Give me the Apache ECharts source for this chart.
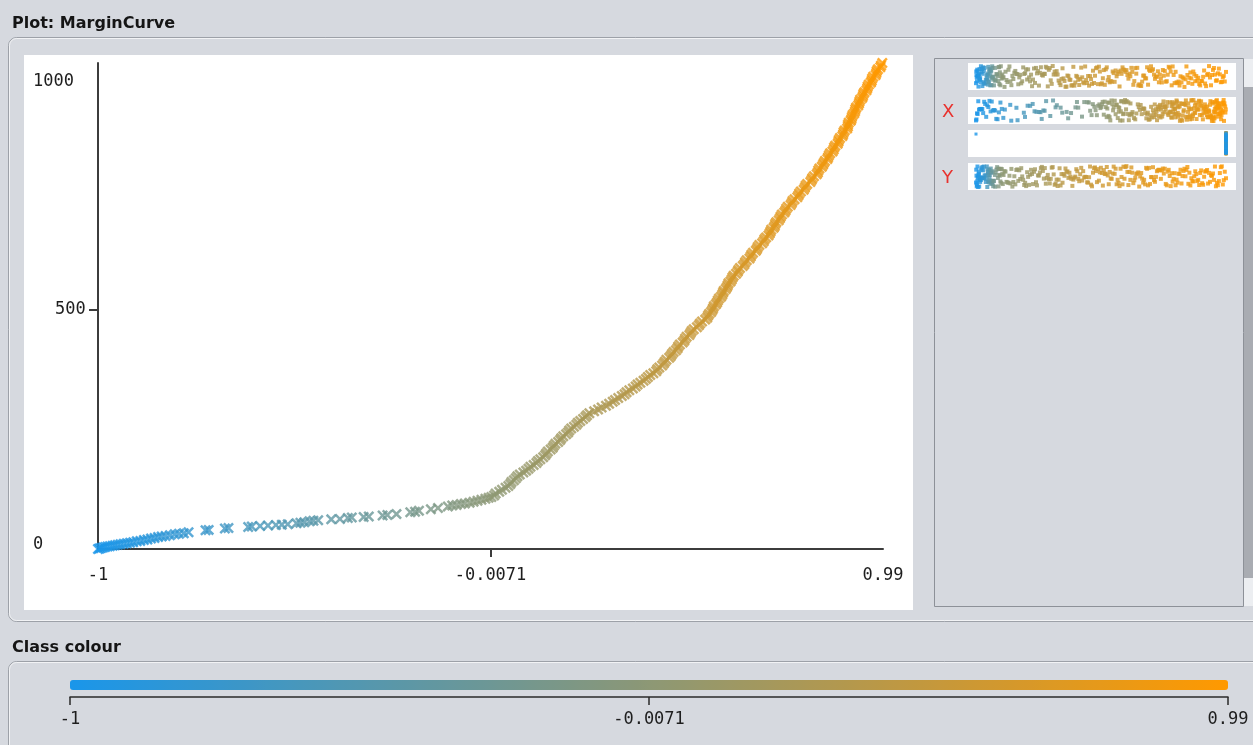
<!DOCTYPE html>
<html><head><meta charset="utf-8">
<script src="https://cdn.jsdelivr.net/npm/echarts@6/dist/echarts.min.js"></script>
<style>html,body{margin:0;padding:0;background:#d6d9df;overflow:hidden}#c{width:1253px;height:745px}</style>
</head><body><div id="c"></div>
<script>
// ---- data (Weka margin curve) ----
const marginX = [
-1.000,-0.996,-0.992,-0.987,-0.982,-0.976,-0.970,-0.963,-0.957,-0.950,-0.943,-0.935,-0.927,-0.919,-0.911,
-0.902,-0.893,-0.884,-0.875,-0.866,-0.857,-0.848,-0.839,-0.829,-0.818,-0.806,-0.795,-0.783,-0.771,-0.728,
-0.720,-0.679,-0.670,-0.620,-0.611,-0.590,-0.570,-0.550,-0.535,-0.520,-0.498,-0.488,-0.478,-0.465,-0.455,
-0.443,-0.410,-0.388,-0.368,-0.358,-0.328,-0.315,-0.280,-0.268,-0.245,-0.210,-0.198,-0.188,-0.158,-0.140,
-0.115,-0.104,-0.093,-0.082,-0.072,-0.060,-0.050,-0.040,-0.030,-0.020,-0.012,-0.005,0.002,
0.006,0.015,0.022,0.031,0.038,0.043,0.046,0.052,0.057,0.061,0.067,0.076,
0.083,0.089,0.094,0.102,0.109,0.113,0.119,0.126,0.131,0.134,0.138,0.145,
0.150,0.153,0.157,0.164,0.169,0.172,0.177,0.184,0.189,0.192,0.197,0.204,
0.210,0.214,0.220,0.227,0.233,0.237,0.243,0.255,0.265,0.274,0.285,0.293,
0.302,0.308,0.316,0.325,0.332,0.337,0.344,0.353,0.360,0.365,0.372,0.380,
0.386,0.391,0.397,0.405,0.412,0.415,0.420,0.427,0.431,0.434,0.438,0.445,
0.449,0.452,0.456,0.462,0.466,0.468,0.472,0.479,0.483,0.485,0.489,0.496,
0.499,0.502,0.507,0.515,0.520,0.523,0.528,0.536,0.541,0.543,0.546,0.551,
0.554,0.556,0.558,0.563,0.566,0.568,0.571,0.576,0.579,0.581,0.583,0.588,
0.591,0.593,0.595,0.600,0.603,0.605,0.608,0.614,0.618,0.620,0.624,0.631,
0.635,0.637,0.641,0.648,0.651,0.653,0.657,0.664,0.667,0.669,0.673,0.680,
0.684,0.686,0.690,0.696,0.699,0.701,0.703,0.709,0.712,0.713,0.716,0.722,
0.725,0.727,0.730,0.736,0.739,0.741,0.745,0.752,0.755,0.757,0.762,0.769,
0.772,0.774,0.778,0.785,0.788,0.790,0.794,0.802,0.805,0.807,0.811,0.818,
0.821,0.822,0.825,0.831,0.834,0.836,0.839,0.845,0.847,0.849,0.852,0.858,
0.861,0.862,0.865,0.871,0.873,0.874,0.877,0.883,0.885,0.886,0.889,0.895,
0.897,0.897,0.899,0.904,0.906,0.907,0.909,0.913,0.915,0.916,0.918,0.923,
0.925,0.926,0.928,0.933,0.935,0.936,0.939,0.944,0.946,0.947,0.950,0.955,
0.957,0.958,0.961,0.967,0.969,0.970,0.973,0.979,0.981,0.984];
const cumulativeY = [
0,1,2,3,4,5,6,7,8,9,10,11,12,13,14,
16,17,19,20,22,23,25,26,27,29,31,32,33,35,39,
40,43,44,46,47,48,49,50,51,52,54,55,56,58,59,
60,62,63,65,66,67,68,70,71,73,77,78,80,83,86,
89,91,92,94,95,97,99,101,103,105,107,109,112,
116,120,124,128,132,136,140,144,148,152,156,160,
164,168,172,176,180,184,188,192,196,200,204,208,
212,216,220,224,228,232,236,240,244,248,252,256,
260,264,268,272,276,280,284,288,292,296,300,304,
308,312,316,320,324,328,332,336,340,344,348,352,
356,360,364,368,372,376,380,384,388,392,396,400,
404,408,412,416,420,424,428,432,436,440,444,448,
452,456,460,464,468,472,476,480,484,488,492,496,
500,504,508,512,516,520,524,528,532,536,540,544,
548,552,556,560,564,568,572,576,580,584,588,592,
596,600,604,608,612,616,620,624,628,632,636,640,
644,648,652,656,660,664,668,672,676,680,684,688,
692,696,700,704,708,712,716,720,724,728,732,736,
740,744,748,752,756,760,764,768,772,776,780,784,
788,792,796,800,804,808,812,816,820,824,828,832,
836,840,844,848,852,856,860,864,868,872,876,880,
884,888,892,896,900,904,908,912,916,920,924,928,
932,936,940,944,948,952,956,960,964,968,972,976,
980,984,988,992,996,1000,1004,1008,1012,1017];
const marginMin = -1, marginMax = 0.9858, cumulativeMax = 1017;
const xTickValues = [-1, -0.0071, 0.9858];
const xTickLabels = ['-1', '-0.0071', '0.99'];
const yTickValues = [0, 500, 1000];
const yTickLabels = ['0', '500', '1000'];
const rowLabels = ['', 'X', '', 'Y'];
const titleText = 'Plot: MarginCurve';
const legendTitle = 'Class colour';

// ---- layout ----
const BG = '#d6d9df';
const MONO = 'DejaVu Sans Mono';
const rowTops = [63, 97, 130, 163];
// deterministic vertical spread of strip dots (position only, like Weka's jitter)
const jit = (i, s) => { const v = Math.sin(i * 12.9898 + s * 78.233) * 43758.5453; return v - Math.floor(v); };
function pick(values, labels) {
  return v => { for (let i = 0; i < values.length; i++) if (Math.abs(v - values[i]) < 1e-6) return labels[i]; return ''; };
}
const xLab = pick(xTickValues, xTickLabels);

const mainData = marginX.map((x, i) => [x, cumulativeY[i], x]);
const rowInst = cumulativeY.map((c, i) => [c, jit(i, 1), marginX[i]]);
const rowMargin = marginX.map((x, i) => [x, jit(i, 2), x]);
const currentVals = cumulativeY.map((c, i) => (i === 0 ? 0 : 1));
const rowCurrent = currentVals.map((c, i) => [c, i === 0 ? 0.95 : jit(i, 3), marginX[i]]).reverse();
const rowCum = cumulativeY.map((c, i) => [c, jit(i, 4), marginX[i]]);

const xSym = 'path://M0,1.6L1.6,0L5,3.4L8.4,0L10,1.6L6.6,5L10,8.4L8.4,10L5,6.6L1.6,10L0,8.4L3.4,5Z';

const grids = [{ left: 98, top: 63, width: 785, height: 486 }];
rowTops.forEach(t => grids.push({ left: 976, top: t + 3, width: 250, height: 21 }));
grids.push({ left: 70, top: 690, width: 1158, height: 7 });

const hiddenAxis = (gi, min, max) => ({ type: 'value', gridIndex: gi, min, max, show: false });
const xAxes = [{
  type: 'value', gridIndex: 0, min: marginMin, max: marginMax,
  axisLine: { show: true, onZero: false, lineStyle: { color: '#3c3c3c', width: 2 } },
  axisTick: { show: true, customValues: [xTickValues[1]], length: 8, lineStyle: { color: '#3c3c3c', width: 2 } },
  axisLabel: { customValues: xTickValues, formatter: xLab, fontFamily: MONO, fontSize: 17, color: '#1e1e1e', margin: 18 },
  splitLine: { show: false }
},
hiddenAxis(1, 0, cumulativeMax), hiddenAxis(2, marginMin, marginMax), hiddenAxis(3, 0, 1), hiddenAxis(4, 0, cumulativeMax),
{
  type: 'value', gridIndex: 5, min: marginMin, max: marginMax,
  axisLine: { show: true, onZero: false, lineStyle: { color: '#2a2a2a', width: 1.5 } },
  axisTick: { show: true, customValues: xTickValues, length: 8, lineStyle: { color: '#2a2a2a', width: 1.5 } },
  axisLabel: { customValues: xTickValues, formatter: xLab, fontFamily: MONO, fontSize: 17, color: '#1e1e1e', margin: 14 },
  splitLine: { show: false }
}];
const yStyles = ['b', 'm', 't'];
const yAxes = [{
  type: 'value', gridIndex: 0, min: 0, max: cumulativeMax,
  axisLine: { show: true, onZero: false, lineStyle: { color: '#3c3c3c', width: 2 } },
  axisTick: { show: true, customValues: [yTickValues[1]], length: 9, lineStyle: { color: '#3c3c3c', width: 2 } },
  axisLabel: {
    customValues: yTickValues, align: 'left', margin: 65,
    fontFamily: MONO, fontSize: 17, color: '#1e1e1e',
    formatter: v => { const i = yTickValues.findIndex(t => Math.abs(t - v) < 1e-6); return i < 0 ? '' : '{' + yStyles[i] + '|' + yTickLabels[i] + '}'; },
    rich: {
      b: { fontFamily: MONO, fontSize: 17, color: '#1e1e1e', padding: [0, 0, 8, 0] },
      m: { fontFamily: MONO, fontSize: 17, color: '#1e1e1e', padding: [0, 0, 0, 22] },
      t: { fontFamily: MONO, fontSize: 17, color: '#1e1e1e', padding: [20, 0, 0, 0] }
    }
  },
  splitLine: { show: false }
},
hiddenAxis(1, 0, 1), hiddenAxis(2, 0, 1), hiddenAxis(3, 0, 1), hiddenAxis(4, 0, 1), hiddenAxis(5, 0, 1)];

const stripSeries = (gi, data, size) => ({
  type: 'scatter', xAxisIndex: gi, yAxisIndex: gi, data, symbol: 'rect', symbolSize: size, clip: false, silent: true
});

const graphics = [
  { type: 'text', left: 12, top: 16, z: 100, style: { text: titleText, font: 'bold 16px "DejaVu Sans"', fill: '#151515' } },
  { type: 'rect', shape: { x: 8.5, y: 37.5, width: 1270, height: 584, r: 8 }, z: -20, style: { fill: BG, stroke: '#9da1a8', lineWidth: 1 } },
  { type: 'rect', shape: { x: 9.5, y: 38.5, width: 1270, height: 582, r: 7 }, z: -19, style: { fill: null, stroke: '#f2f3f5', lineWidth: 1 } },
  { type: 'rect', shape: { x: 24, y: 55, width: 889, height: 555 }, z: -10, style: { fill: '#ffffff' } },
  { type: 'rect', shape: { x: 934.5, y: 58.5, width: 309, height: 548 }, z: -10, style: { fill: BG, stroke: '#8d9198', lineWidth: 1 } },
  { type: 'rect', shape: { x: 1244, y: 59, width: 12, height: 547 }, z: -9, style: { fill: '#a9acb2' } },
  { type: 'rect', shape: { x: 1244, y: 59, width: 12, height: 28 }, z: -8, style: { fill: '#eceef1' } },
  { type: 'rect', shape: { x: 1244, y: 578, width: 12, height: 28 }, z: -8, style: { fill: '#eceef1' } },
  { type: 'text', left: 12, top: 640, z: 100, style: { text: legendTitle, font: 'bold 16px "DejaVu Sans"', fill: '#151515' } },
  { type: 'rect', shape: { x: 8.5, y: 661.5, width: 1270, height: 120, r: 8 }, z: -20, style: { fill: BG, stroke: '#9da1a8', lineWidth: 1 } },
  { type: 'rect', shape: { x: 9.5, y: 662.5, width: 1270, height: 118, r: 7 }, z: -19, style: { fill: null, stroke: '#f2f3f5', lineWidth: 1 } }
];
rowTops.forEach((t, i) => {
  graphics.push({ type: 'rect', shape: { x: 968, y: t, width: 268, height: 27 }, z: -5, style: { fill: '#ffffff' } });
  if (rowLabels[i]) graphics.push({ type: 'text', left: 942, top: t + 6, z: 100, style: { text: rowLabels[i], font: '18px "DejaVu Sans"', fill: '#e8322e' } });
});

const chart = echarts.init(document.getElementById('c'), null, { renderer: 'canvas' });
chart.setOption({
  animation: false,
  backgroundColor: BG,
  grid: grids,
  xAxis: xAxes,
  yAxis: yAxes,
  visualMap: {
    type: 'continuous', dimension: 2, min: marginMin, max: marginMax, seriesIndex: [0, 1, 2, 3, 4],
    inRange: { color: ['#1a96ea', '#ff9900'] },
    orient: 'horizontal', left: 70, top: 680, itemWidth: 10, itemHeight: 1158,
    calculable: false, hoverLink: false, padding: 0, text: null, showLabel: false
  },
  graphic: graphics,
  series: [
    { type: 'scatter', xAxisIndex: 0, yAxisIndex: 0, data: mainData, symbol: xSym, symbolSize: 11, clip: false, silent: true },
    stripSeries(1, rowInst, 4),
    stripSeries(2, rowMargin, 4),
    stripSeries(3, rowCurrent, 3),
    stripSeries(4, rowCum, 4)
  ]
});
</script></body></html>
